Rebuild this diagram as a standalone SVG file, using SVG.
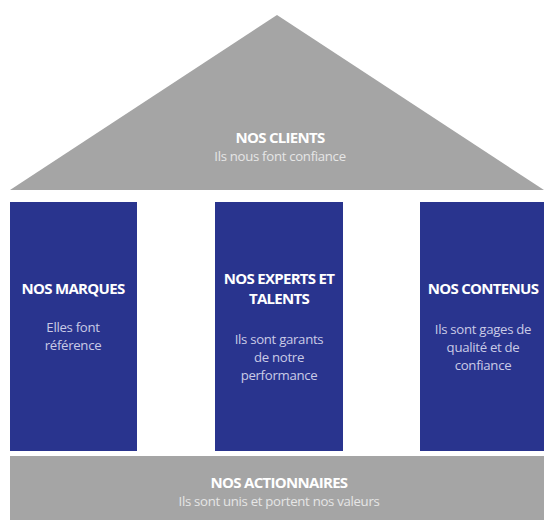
<svg xmlns="http://www.w3.org/2000/svg" width="544" height="520" viewBox="0 0 544 520">
<style>
.roof{fill:#a5a5a5}
.pillar{fill:#29348e}
.h{font-family:"Open Sans","Noto Sans",sans-serif;font-weight:bold;font-size:15px;fill:#ffffff;text-anchor:middle;letter-spacing:-0.7px}
.s{font-family:"Open Sans","Noto Sans",sans-serif;font-size:13.2px;text-anchor:middle;letter-spacing:-0.3px}
.sg{fill:#e6e6e6}
.sb{fill:#c9cbe6}
</style>
<rect width="544" height="520" fill="#ffffff"/>
<g id="roof">
<polygon class="roof" points="277,15 544,190 10,190"/>
<text class="h" x="280" y="143">NOS CLIENTS</text>
<text class="s sg" x="280" y="161">Ils nous font confiance</text>
</g>
<g id="marques">
<rect class="pillar" x="10" y="202" width="127" height="249"/>
<text class="h" x="73" y="294">NOS MARQUES</text>
<text class="s sb" x="73" y="332">Elles font</text>
<text class="s sb" x="73" y="350">référence</text>
</g>
<g id="experts">
<rect class="pillar" x="215" y="202" width="128" height="249"/>
<text class="h" x="279" y="284">NOS EXPERTS ET</text>
<text class="h" x="279" y="304">TALENTS</text>
<text class="s sb" x="279" y="344">Ils sont garants</text>
<text class="s sb" x="279" y="362">de notre</text>
<text class="s sb" x="279" y="380">performance</text>
</g>
<g id="contenus">
<rect class="pillar" x="420" y="202" width="126" height="249"/>
<text class="h" x="483" y="294">NOS CONTENUS</text>
<text class="s sb" x="483" y="334">Ils sont gages de</text>
<text class="s sb" x="483" y="352">qualité et de</text>
<text class="s sb" x="483" y="370">confiance</text>
</g>
<g id="actionnaires">
<rect class="roof" x="10" y="456" width="534" height="64"/>
<text class="h" x="279" y="488">NOS ACTIONNAIRES</text>
<text class="s sg" x="279" y="506">Ils sont unis et portent nos valeurs</text>
</g>
<g id="connectors"/>
</svg>
